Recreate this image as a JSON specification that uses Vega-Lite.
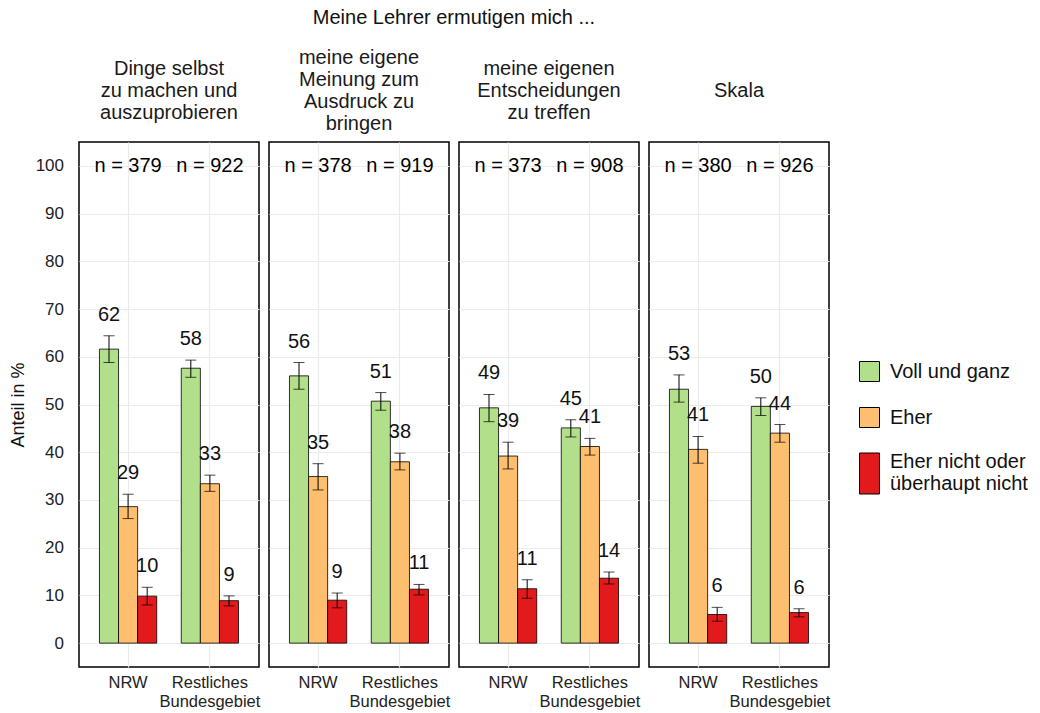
{
  "$schema": "https://vega.github.io/schema/vega-lite/v6.json",
  "background": "white",
  "padding": {"left": 9, "top": 8, "right": 5, "bottom": 2},
  "bounds": "flush",
  "data": {"values": [
    {"item": "Dinge selbst|zu machen und|auszuprobieren", "region": "NRW", "cat": "Voll und ganz", "val": 61.6, "lo": 58.8, "hi": 64.4, "nlab": "n = 379"},
    {"item": "Dinge selbst|zu machen und|auszuprobieren", "region": "NRW", "cat": "Eher", "val": 28.6, "lo": 26.1, "hi": 31.2, "nlab": "n = 379"},
    {"item": "Dinge selbst|zu machen und|auszuprobieren", "region": "NRW", "cat": "Eher nicht oder überhaupt nicht", "val": 9.85, "lo": 8.0, "hi": 11.7, "nlab": "n = 379"},
    {"item": "Dinge selbst|zu machen und|auszuprobieren", "region": "Restliches Bundesgebiet", "cat": "Voll und ganz", "val": 57.6, "lo": 55.7, "hi": 59.3, "nlab": "n = 922"},
    {"item": "Dinge selbst|zu machen und|auszuprobieren", "region": "Restliches Bundesgebiet", "cat": "Eher", "val": 33.4, "lo": 31.8, "hi": 35.2, "nlab": "n = 922"},
    {"item": "Dinge selbst|zu machen und|auszuprobieren", "region": "Restliches Bundesgebiet", "cat": "Eher nicht oder überhaupt nicht", "val": 8.9, "lo": 7.8, "hi": 9.9, "nlab": "n = 922"},
    {"item": "meine eigene|Meinung zum|Ausdruck zu|bringen", "region": "NRW", "cat": "Voll und ganz", "val": 56.0, "lo": 53.2, "hi": 58.8, "nlab": "n = 378"},
    {"item": "meine eigene|Meinung zum|Ausdruck zu|bringen", "region": "NRW", "cat": "Eher", "val": 34.9, "lo": 32.1, "hi": 37.6, "nlab": "n = 378"},
    {"item": "meine eigene|Meinung zum|Ausdruck zu|bringen", "region": "NRW", "cat": "Eher nicht oder überhaupt nicht", "val": 9.0, "lo": 7.4, "hi": 10.5, "nlab": "n = 378"},
    {"item": "meine eigene|Meinung zum|Ausdruck zu|bringen", "region": "Restliches Bundesgebiet", "cat": "Voll und ganz", "val": 50.7, "lo": 48.8, "hi": 52.5, "nlab": "n = 919"},
    {"item": "meine eigene|Meinung zum|Ausdruck zu|bringen", "region": "Restliches Bundesgebiet", "cat": "Eher", "val": 38.0, "lo": 36.3, "hi": 39.8, "nlab": "n = 919"},
    {"item": "meine eigene|Meinung zum|Ausdruck zu|bringen", "region": "Restliches Bundesgebiet", "cat": "Eher nicht oder überhaupt nicht", "val": 11.3, "lo": 10.1, "hi": 12.3, "nlab": "n = 919"},
    {"item": "meine eigenen|Entscheidungen|zu treffen", "region": "NRW", "cat": "Voll und ganz", "val": 49.3, "lo": 46.4, "hi": 52.1, "nlab": "n = 373"},
    {"item": "meine eigenen|Entscheidungen|zu treffen", "region": "NRW", "cat": "Eher", "val": 39.2, "lo": 36.5, "hi": 42.1, "nlab": "n = 373"},
    {"item": "meine eigenen|Entscheidungen|zu treffen", "region": "NRW", "cat": "Eher nicht oder überhaupt nicht", "val": 11.4, "lo": 9.4, "hi": 13.3, "nlab": "n = 373"},
    {"item": "meine eigenen|Entscheidungen|zu treffen", "region": "Restliches Bundesgebiet", "cat": "Voll und ganz", "val": 45.1, "lo": 43.2, "hi": 46.8, "nlab": "n = 908"},
    {"item": "meine eigenen|Entscheidungen|zu treffen", "region": "Restliches Bundesgebiet", "cat": "Eher", "val": 41.2, "lo": 39.4, "hi": 42.9, "nlab": "n = 908"},
    {"item": "meine eigenen|Entscheidungen|zu treffen", "region": "Restliches Bundesgebiet", "cat": "Eher nicht oder überhaupt nicht", "val": 13.6, "lo": 12.4, "hi": 14.9, "nlab": "n = 908"},
    {"item": "Skala", "region": "NRW", "cat": "Voll und ganz", "val": 53.2, "lo": 50.5, "hi": 56.2, "nlab": "n = 380"},
    {"item": "Skala", "region": "NRW", "cat": "Eher", "val": 40.6, "lo": 37.7, "hi": 43.3, "nlab": "n = 380"},
    {"item": "Skala", "region": "NRW", "cat": "Eher nicht oder überhaupt nicht", "val": 6.0, "lo": 4.6, "hi": 7.5, "nlab": "n = 380"},
    {"item": "Skala", "region": "Restliches Bundesgebiet", "cat": "Voll und ganz", "val": 49.6, "lo": 47.7, "hi": 51.4, "nlab": "n = 926"},
    {"item": "Skala", "region": "Restliches Bundesgebiet", "cat": "Eher", "val": 44.0, "lo": 42.1, "hi": 45.8, "nlab": "n = 926"},
    {"item": "Skala", "region": "Restliches Bundesgebiet", "cat": "Eher nicht oder überhaupt nicht", "val": 6.4, "lo": 5.5, "hi": 7.2, "nlab": "n = 926"}
  ]},
  "facet": {
    "column": {
      "field": "item",
      "type": "nominal",
      "sort": ["Dinge selbst|zu machen und|auszuprobieren", "meine eigene|Meinung zum|Ausdruck zu|bringen", "meine eigenen|Entscheidungen|zu treffen", "Skala"],
      "title": "Meine Lehrer ermutigen mich ...",
      "header": {
        "titleFontSize": 20,
        "titleFontWeight": "normal",
        "titleColor": "#111",
        "titlePadding": 104,
        "labels": false
      }
    }
  },
  "spacing": 10,
  "spec": {
    "width": 180,
    "height": 525,
    "encoding": {
      "x": {
        "field": "region", "type": "nominal", "title": null,
        "scale": {"paddingInner": 0.3, "paddingOuter": 0.25},
        "axis": {
          "labelAngle": 0, "labelFontSize": 16.5, "labelColor": "#222", "labelLineHeight": 19,
          "labelPadding": 7, "ticks": false, "domain": false, "grid": true, "gridColor": "#ebebeb", "gridWidth": 1.2,
          "bandPosition": 0.5,
          "labelExpr": "datum.label == 'Restliches Bundesgebiet' ? ['Restliches', 'Bundesgebiet'] : datum.label"
        }
      }
    },
    "layer": [
      {
        "mark": {"type": "bar", "stroke": "black", "strokeWidth": 0.8},
        "encoding": {
          "xOffset": {"field": "cat", "type": "nominal", "sort": ["Voll und ganz", "Eher", "Eher nicht oder überhaupt nicht"], "scale": {"paddingInner": 0, "paddingOuter": 0}},
          "y": {
            "field": "val", "type": "quantitative", "title": "Anteil in %",
            "scale": {"domain": [-5, 105], "nice": false, "zero": false},
            "axis": {
              "values": [0, 5, 10, 15, 20, 25, 30, 35, 40, 45, 50, 55, 60, 65, 70, 75, 80, 85, 90, 95, 100],
              "labelExpr": "datum.value % 10 === 0 ? datum.label : ''",
              "labelFontSize": 17, "labelColor": "#222", "labelPadding": 15.5,
              "ticks": false, "domain": false,
              "gridColor": {"condition": {"test": "datum.value % 10 === 0", "value": "#ebebeb"}, "value": "#f3f3f3"},
              "gridWidth": {"condition": {"test": "datum.value % 10 === 0", "value": 1.2}, "value": 0.6},
              "titleFontSize": 18, "titleFontWeight": "normal", "titleColor": "#111", "titlePadding": 8
            }
          },
          "y2": {"datum": 0},
          "color": {
            "field": "cat", "type": "nominal",
            "scale": {"domain": ["Voll und ganz", "Eher", "Eher nicht oder überhaupt nicht"], "range": ["#b2df8a", "#fdbf6f", "#e31a1c"]},
            "legend": {
              "title": null, "orient": "none", "legendX": 780, "legendY": 219,
              "labelFontSize": 20, "labelColor": "#111", "labelOffset": 10,
              "symbolType": "square", "symbolSize": 400, "symbolStrokeColor": "black", "symbolStrokeWidth": 1,
              "rowPadding": 21,
              "labelExpr": "datum.label == 'Eher nicht oder überhaupt nicht' ? ['Eher nicht oder', 'überhaupt nicht'] : datum.label",
              "encode": {
                "symbols": {
                  "update": {
                    "shape": {"signal": "datum.value == 'Eher nicht oder überhaupt nicht' ? 'M-1,-2.05H1V2.05H-1Z' : 'square'"}
                  }
                },
                "labels": {
                  "update": {
                    "dy": {"signal": "datum.value == 'Eher nicht oder überhaupt nicht' ? -11.5 : 0"}
                  }
                }
              }
            }
          }
        }
      },
      {
        "mark": {"type": "rule", "color": "black", "strokeWidth": 1},
        "encoding": {
          "xOffset": {"field": "cat", "type": "nominal", "sort": ["Voll und ganz", "Eher", "Eher nicht oder überhaupt nicht"]},
          "y": {"field": "lo", "type": "quantitative"},
          "y2": {"field": "hi"}
        }
      },
      {
        "mark": {"type": "tick", "color": "black", "thickness": 1, "size": 11},
        "encoding": {
          "xOffset": {"field": "cat", "type": "nominal", "sort": ["Voll und ganz", "Eher", "Eher nicht oder überhaupt nicht"]},
          "y": {"field": "lo", "type": "quantitative"}
        }
      },
      {
        "mark": {"type": "tick", "color": "black", "thickness": 1, "size": 11},
        "encoding": {
          "xOffset": {"field": "cat", "type": "nominal", "sort": ["Voll und ganz", "Eher", "Eher nicht oder überhaupt nicht"]},
          "y": {"field": "hi", "type": "quantitative"}
        }
      },
      {
        "mark": {"type": "text", "fontSize": 20, "baseline": "middle", "dy": -21, "color": "#111"},
        "encoding": {
          "xOffset": {"field": "cat", "type": "nominal", "sort": ["Voll und ganz", "Eher", "Eher nicht oder überhaupt nicht"]},
          "y": {"field": "hi", "type": "quantitative"},
          "text": {"field": "val", "type": "quantitative", "format": ".0f"}
        }
      },
      {
        "transform": [{"filter": "datum.cat == 'Voll und ganz'"}],
        "mark": {"type": "text", "fontSize": 20, "baseline": "middle", "color": "black"},
        "encoding": {
          "y": {"datum": 100},
          "text": {"field": "nlab", "type": "nominal"}
        }
      },
      {
        "transform": [{"filter": "datum.cat == 'Voll und ganz' && datum.region == 'NRW'"}],
        "mark": {
          "type": "text", "fontSize": 20, "baseline": "middle", "align": "center", "color": "#1a1a1a",
          "lineBreak": "|", "lineHeight": 22,
          "dy": {"expr": "-11 * (length(split(datum.item, '|')) - 1)"}
        },
        "encoding": {
          "x": {"field": "region", "type": "nominal", "bandPosition": 1.2143},
          "y": {"datum": 115.7},
          "text": {"field": "item", "type": "nominal"}
        }
      }
    ]
  },
  "config": {
    "font": "Liberation Sans",
    "view": {"stroke": "black", "strokeWidth": 1.5}
  }
}
